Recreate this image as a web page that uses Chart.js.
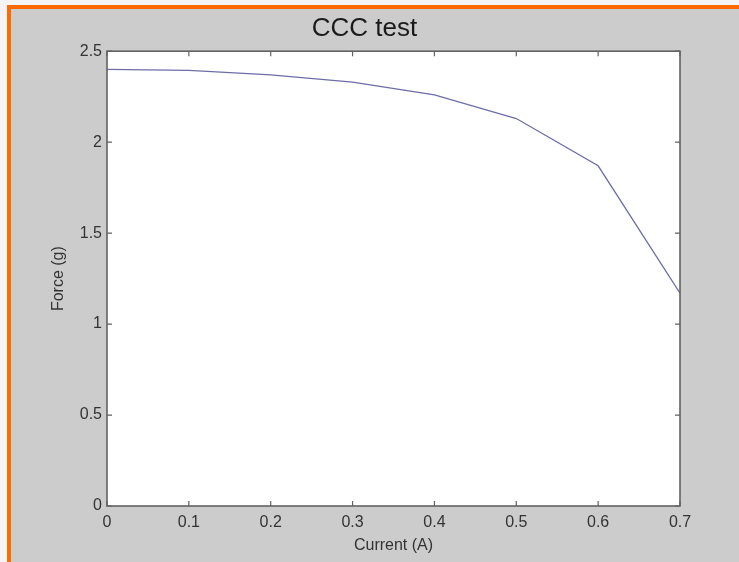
<!DOCTYPE html>
<html>
<head>
<meta charset="utf-8">
<script src="https://cdn.jsdelivr.net/npm/chart.js@4/dist/chart.umd.min.js"></script>
<style>
  html, body { margin: 0; padding: 0; background: #cccccc; }
  canvas { display: block; }
</style>
</head>
<body>
<canvas id="ccc_canvas" width="739" height="562"></canvas>
<script>
// values
var currentA = [0, 0.1, 0.2, 0.3, 0.4, 0.5, 0.6, 0.7];
var forceG = [2.40, 2.395, 2.37, 2.33, 2.26, 2.13, 1.87, 1.17];
var xTicks = [0, 0.1, 0.2, 0.3, 0.4, 0.5, 0.6, 0.7];
var yTicks = [0, 0.5, 1, 1.5, 2, 2.5];

var points = [];
for (var i = 0; i < currentA.length; i++) {
  points.push({x: currentA[i], y: forceG[i]});
}

// page frame + white plot box + matlab style inward ticks
var frame = {
  id: 'frame',
  beforeDraw: function(chart) {
    var c = chart.ctx, a = chart.chartArea;
    c.save();
    c.fillStyle = '#f4f4f4';
    c.fillRect(0, 0, chart.width, chart.height);
    c.fillStyle = '#ff6a00';
    c.fillRect(7, 5, chart.width - 7, chart.height - 5);
    c.fillStyle = '#cccccc';
    c.fillRect(11, 9, chart.width - 11, chart.height - 9);
    c.fillStyle = '#ffffff';
    c.fillRect(a.left, a.top, a.right - a.left, a.bottom - a.top);
    c.restore();
  },
  afterDatasetsDraw: function(chart) {
    var c = chart.ctx, a = chart.chartArea;
    var xs = chart.scales.x, ys = chart.scales.y;
    var len = 5;
    c.save();
    c.strokeStyle = '#626262';
    c.lineWidth = 1.2;
    c.beginPath();
    xTicks.forEach(function(v) {
      var px = xs.getPixelForValue(v);
      c.moveTo(px, a.bottom); c.lineTo(px, a.bottom - len);
      c.moveTo(px, a.top); c.lineTo(px, a.top + len);
    });
    yTicks.forEach(function(v) {
      var py = ys.getPixelForValue(v);
      c.moveTo(a.left, py); c.lineTo(a.left + len, py);
      c.moveTo(a.right, py); c.lineTo(a.right - len, py);
    });
    c.stroke();
    c.lineWidth = 1.6;
    c.strokeRect(a.left, a.top, a.right - a.left, a.bottom - a.top);
    c.restore();
  }
};

var ctx = document.getElementById('ccc_canvas').getContext('2d');
var chart = new Chart(ctx, {
  type: 'line',
  data: {
    datasets: [{
      data: points,
      borderColor: '#6d6da8',
      borderWidth: 1.3,
      pointRadius: 0,
      tension: 0,
      fill: false
    }]
  },
  options: {
    responsive: false,
    animation: false,
    layout: { padding: { left: 49, right: 59, top: 0, bottom: 7 } },
    plugins: {
      legend: { display: false },
      tooltip: { enabled: false },
      title: {
        display: true,
        text: 'CCC test',
        color: '#1a1a1a',
        font: { family: 'Liberation Sans', size: 26, weight: 'normal' },
        padding: { top: 13, bottom: 7 }
      }
    },
    scales: {
      x: {
        type: 'linear',
        min: 0, max: 0.7,
        afterBuildTicks: function(s) { s.ticks = xTicks.map(function(v) { return {value: v}; }); },
        afterFit: function(s) { s.height = 49; },
        grid: { display: false, drawTicks: false },
        border: { display: false },
        ticks: {
          padding: 7,
          color: '#333333',
          font: { family: 'Liberation Sans', size: 16 },
          callback: function(v) { return String(Math.round(v * 10) / 10); }
        },
        title: {
          display: true,
          text: 'Current (A)',
          color: '#333333',
          padding: 0,
          font: { family: 'Liberation Sans', size: 16 }
        }
      },
      y: {
        min: 0, max: 2.5,
        afterBuildTicks: function(s) { s.ticks = yTicks.map(function(v) { return {value: v}; }); },
        afterFit: function(s) { s.width = 58; },
        grid: { display: false, drawTicks: false },
        border: { display: false },
        ticks: {
          padding: 5,
          color: '#333333',
          font: { family: 'Liberation Sans', size: 16 },
          callback: function(v) { return String(v); }
        },
        title: {
          display: true,
          text: 'Force (g)',
          color: '#333333',
          padding: 0,
          font: { family: 'Liberation Sans', size: 16 }
        }
      }
    }
  },
  plugins: [frame]
});
</script>
</body>
</html>
